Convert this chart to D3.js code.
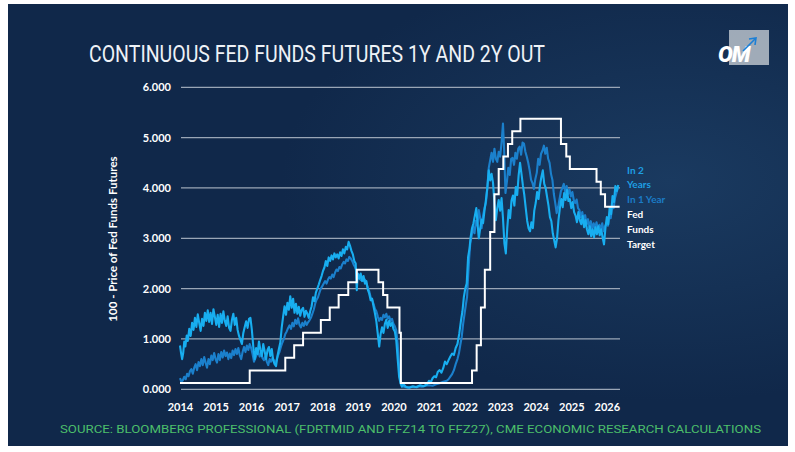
<!DOCTYPE html>
<html>
<head>
<meta charset="utf-8">
<script src="https://cdn.jsdelivr.net/npm/d3@7"></script>
<style>
html, body { margin: 0; padding: 0; background: #fff; }
svg { display: block; }
</style>
</head>
<body>
<svg id="chart" width="795" height="452"></svg>
<script>
'use strict';

var years = [2014, 2015, 2016, 2017, 2018, 2019, 2020, 2021, 2022, 2023, 2024, 2025, 2026];
var yTicks = [0, 1, 2, 3, 4, 5, 6];

// [decimal year, 100 - price]
var inTwoYears = [
    [2014.00, 0.87], [2014.03, 0.72], [2014.06, 0.60], [2014.09, 0.72], [2014.12, 0.95], [2014.15, 0.85],
    [2014.19, 1.07], [2014.22, 0.96], [2014.26, 1.20], [2014.30, 1.06], [2014.34, 1.32], [2014.38, 1.18],
    [2014.42, 1.42], [2014.46, 1.24], [2014.50, 1.49], [2014.54, 1.32], [2014.58, 1.16], [2014.62, 1.40],
    [2014.66, 1.26], [2014.70, 1.52], [2014.74, 1.36], [2014.78, 1.57], [2014.82, 1.34], [2014.86, 1.52],
    [2014.90, 1.30], [2014.94, 1.59], [2014.98, 1.44], [2015.02, 1.28], [2015.06, 1.48], [2015.10, 1.24],
    [2015.14, 1.50], [2015.18, 1.32], [2015.22, 1.55], [2015.26, 1.36], [2015.30, 1.26], [2015.34, 1.45],
    [2015.38, 1.22], [2015.42, 1.16], [2015.46, 1.38], [2015.50, 1.50], [2015.54, 1.28], [2015.58, 1.42],
    [2015.62, 1.18], [2015.66, 1.06], [2015.70, 0.98], [2015.74, 0.90], [2015.78, 1.12], [2015.82, 1.24],
    [2015.86, 1.35], [2015.90, 1.22], [2015.94, 1.40], [2015.98, 1.42], [2016.02, 1.18], [2016.06, 0.85],
    [2016.10, 0.60], [2016.14, 0.82], [2016.18, 0.70], [2016.22, 0.95], [2016.26, 0.78], [2016.30, 0.66],
    [2016.34, 0.90], [2016.38, 0.75], [2016.42, 0.60], [2016.46, 0.78], [2016.50, 0.84], [2016.54, 0.66],
    [2016.58, 0.80], [2016.62, 0.58], [2016.66, 0.50], [2016.70, 0.46], [2016.74, 0.66], [2016.78, 0.80],
    [2016.82, 0.93], [2016.86, 1.23], [2016.90, 1.45], [2016.94, 1.65], [2016.98, 1.48], [2017.02, 1.72],
    [2017.06, 1.58], [2017.10, 1.85], [2017.14, 1.62], [2017.18, 1.80], [2017.22, 1.52], [2017.26, 1.70],
    [2017.30, 1.50], [2017.34, 1.64], [2017.38, 1.46], [2017.42, 1.58], [2017.46, 1.62], [2017.50, 1.44],
    [2017.54, 1.56], [2017.58, 1.50], [2017.62, 1.42], [2017.66, 1.55], [2017.70, 1.65], [2017.74, 1.83],
    [2017.78, 1.75], [2017.82, 1.92], [2017.86, 2.00], [2017.90, 2.08], [2017.94, 2.17], [2017.98, 2.25],
    [2018.02, 2.35], [2018.06, 2.42], [2018.10, 2.55], [2018.14, 2.45], [2018.18, 2.62], [2018.22, 2.55],
    [2018.26, 2.66], [2018.30, 2.58], [2018.34, 2.70], [2018.38, 2.62], [2018.42, 2.68], [2018.46, 2.60],
    [2018.50, 2.72], [2018.54, 2.65], [2018.58, 2.78], [2018.62, 2.70], [2018.66, 2.83], [2018.70, 2.78],
    [2018.74, 2.93], [2018.78, 2.85], [2018.82, 2.75], [2018.86, 2.68], [2018.90, 2.55], [2018.94, 2.50],
    [2018.97, 1.97], [2019.00, 2.30], [2019.04, 2.20], [2019.08, 2.30], [2019.12, 2.15], [2019.16, 2.25],
    [2019.20, 2.10], [2019.24, 2.15], [2019.28, 1.98], [2019.32, 1.90], [2019.36, 1.77], [2019.40, 1.80],
    [2019.44, 1.65], [2019.48, 1.51], [2019.52, 1.35], [2019.56, 1.10], [2019.60, 0.85], [2019.64, 1.10],
    [2019.68, 1.23], [2019.72, 1.12], [2019.76, 1.30], [2019.80, 1.38], [2019.84, 1.22], [2019.88, 1.36],
    [2019.92, 1.26], [2019.96, 1.32], [2020.00, 1.20], [2020.04, 1.15], [2020.08, 0.97], [2020.12, 0.60],
    [2020.16, 0.25], [2020.20, 0.12], [2020.24, 0.05], [2020.28, 0.10], [2020.35, 0.05], [2020.45, 0.03],
    [2020.55, 0.06], [2020.65, 0.04], [2020.75, 0.08], [2020.85, 0.06], [2020.95, 0.10], [2021.00, 0.17],
    [2021.05, 0.14], [2021.10, 0.22], [2021.15, 0.26], [2021.20, 0.24], [2021.25, 0.35], [2021.30, 0.38],
    [2021.35, 0.33], [2021.40, 0.42], [2021.45, 0.55], [2021.50, 0.50], [2021.55, 0.58], [2021.60, 0.65],
    [2021.65, 0.71], [2021.70, 0.68], [2021.75, 0.82], [2021.80, 0.90], [2021.85, 1.10], [2021.90, 1.37],
    [2021.94, 1.55], [2021.98, 1.83], [2022.02, 2.00], [2022.06, 2.10], [2022.10, 2.63], [2022.14, 2.80],
    [2022.17, 3.02], [2022.21, 3.20], [2022.25, 3.30], [2022.29, 3.45], [2022.33, 3.60], [2022.37, 3.25],
    [2022.40, 3.00], [2022.44, 3.20], [2022.48, 3.37], [2022.52, 3.30], [2022.56, 3.55], [2022.60, 3.76],
    [2022.64, 4.00], [2022.68, 4.35], [2022.72, 4.15], [2022.76, 4.28], [2022.80, 4.10], [2022.84, 3.70],
    [2022.88, 3.36], [2022.92, 3.60], [2022.96, 3.76], [2023.00, 3.55], [2023.04, 3.80], [2023.08, 3.40],
    [2023.12, 2.90], [2023.16, 2.70], [2023.20, 3.20], [2023.24, 3.56], [2023.28, 3.40], [2023.32, 3.75],
    [2023.36, 3.85], [2023.40, 3.65], [2023.44, 4.02], [2023.48, 3.86], [2023.52, 4.25], [2023.56, 4.50],
    [2023.60, 4.28], [2023.64, 4.05], [2023.68, 3.86], [2023.72, 3.60], [2023.76, 3.35], [2023.80, 3.20],
    [2023.84, 3.14], [2023.88, 3.32], [2023.92, 3.20], [2023.96, 3.55], [2024.00, 3.70], [2024.04, 3.92],
    [2024.08, 3.78], [2024.12, 4.05], [2024.16, 4.22], [2024.20, 4.35], [2024.24, 4.08], [2024.28, 4.00],
    [2024.32, 3.82], [2024.36, 3.65], [2024.40, 3.42], [2024.44, 3.34], [2024.48, 3.10], [2024.52, 2.96],
    [2024.56, 2.82], [2024.60, 3.00], [2024.64, 3.36], [2024.68, 3.60], [2024.72, 3.78], [2024.76, 3.62],
    [2024.80, 3.90], [2024.84, 3.76], [2024.88, 3.96], [2024.92, 3.74], [2024.96, 3.78], [2025.00, 3.60],
    [2025.04, 3.72], [2025.08, 3.52], [2025.12, 3.45], [2025.16, 3.32], [2025.20, 3.52], [2025.24, 3.36],
    [2025.28, 3.28], [2025.32, 3.44], [2025.36, 3.22], [2025.40, 3.36], [2025.44, 3.18], [2025.48, 3.08],
    [2025.52, 3.24], [2025.56, 3.04], [2025.60, 3.18], [2025.64, 3.02], [2025.68, 3.22], [2025.72, 3.08],
    [2025.76, 3.24], [2025.80, 3.06], [2025.84, 3.18], [2025.88, 3.02], [2025.92, 2.88], [2025.96, 3.20],
    [2026.00, 3.42], [2026.04, 3.28], [2026.08, 3.62], [2026.12, 3.48], [2026.16, 3.84], [2026.20, 3.72],
    [2026.24, 4.04], [2026.28, 3.94], [2026.32, 4.06]
];

var inOneYear = [
    [2014.00, 0.22], [2014.04, 0.15], [2014.08, 0.18], [2014.12, 0.25], [2014.16, 0.20], [2014.20, 0.31],
    [2014.24, 0.26], [2014.28, 0.36], [2014.32, 0.40], [2014.36, 0.31], [2014.40, 0.43], [2014.44, 0.50],
    [2014.48, 0.38], [2014.52, 0.54], [2014.56, 0.46], [2014.60, 0.60], [2014.64, 0.48], [2014.68, 0.64],
    [2014.72, 0.53], [2014.76, 0.43], [2014.80, 0.60], [2014.84, 0.50], [2014.88, 0.67], [2014.92, 0.58],
    [2014.96, 0.72], [2015.00, 0.60], [2015.04, 0.53], [2015.08, 0.70], [2015.12, 0.58], [2015.16, 0.74],
    [2015.20, 0.63], [2015.24, 0.77], [2015.28, 0.66], [2015.32, 0.73], [2015.36, 0.60], [2015.40, 0.71],
    [2015.44, 0.62], [2015.48, 0.77], [2015.52, 0.68], [2015.56, 0.80], [2015.60, 0.70], [2015.64, 0.82],
    [2015.68, 0.68], [2015.72, 0.60], [2015.76, 0.74], [2015.80, 0.84], [2015.84, 0.74], [2015.88, 0.87],
    [2015.92, 0.78], [2015.96, 0.90], [2016.00, 0.82], [2016.04, 0.70], [2016.08, 0.55], [2016.12, 0.62],
    [2016.16, 0.70], [2016.20, 0.75], [2016.24, 0.65], [2016.28, 0.72], [2016.32, 0.62], [2016.36, 0.58],
    [2016.40, 0.66], [2016.44, 0.55], [2016.48, 0.48], [2016.52, 0.60], [2016.56, 0.55], [2016.60, 0.62],
    [2016.64, 0.58], [2016.68, 0.50], [2016.72, 0.60], [2016.76, 0.68], [2016.80, 0.75], [2016.84, 0.85],
    [2016.88, 0.93], [2016.92, 1.00], [2016.96, 1.10], [2017.00, 1.15], [2017.04, 1.22], [2017.08, 1.27],
    [2017.12, 1.20], [2017.16, 1.32], [2017.20, 1.25], [2017.24, 1.38], [2017.28, 1.30], [2017.32, 1.41],
    [2017.36, 1.28], [2017.40, 1.23], [2017.44, 1.32], [2017.48, 1.26], [2017.52, 1.35], [2017.56, 1.28],
    [2017.60, 1.33], [2017.64, 1.37], [2017.68, 1.42], [2017.72, 1.50], [2017.76, 1.58], [2017.80, 1.70],
    [2017.84, 1.78], [2017.88, 1.83], [2017.92, 1.92], [2017.96, 2.00], [2018.00, 2.05], [2018.04, 2.10],
    [2018.08, 2.15], [2018.12, 2.10], [2018.16, 2.18], [2018.20, 2.23], [2018.24, 2.20], [2018.28, 2.28],
    [2018.32, 2.23], [2018.36, 2.32], [2018.40, 2.38], [2018.44, 2.35], [2018.48, 2.43], [2018.52, 2.40],
    [2018.56, 2.48], [2018.60, 2.53], [2018.64, 2.50], [2018.68, 2.58], [2018.72, 2.55], [2018.76, 2.63],
    [2018.80, 2.60], [2018.84, 2.55], [2018.88, 2.48], [2018.92, 2.43], [2018.96, 2.35], [2019.00, 2.25],
    [2019.04, 2.20], [2019.08, 2.17], [2019.12, 2.22], [2019.16, 2.15], [2019.20, 2.18], [2019.24, 2.10],
    [2019.28, 2.02], [2019.32, 1.95], [2019.36, 1.83], [2019.40, 1.78], [2019.44, 1.70], [2019.48, 1.60],
    [2019.52, 1.55], [2019.56, 1.45], [2019.60, 1.36], [2019.64, 1.42], [2019.68, 1.38], [2019.72, 1.48],
    [2019.76, 1.43], [2019.80, 1.50], [2019.84, 1.40], [2019.88, 1.45], [2019.92, 1.36], [2019.96, 1.40],
    [2020.00, 1.30], [2020.04, 1.25], [2020.08, 1.17], [2020.12, 0.90], [2020.16, 0.45], [2020.20, 0.15],
    [2020.24, 0.08], [2020.30, 0.05], [2020.40, 0.03], [2020.50, 0.05], [2020.60, 0.04], [2020.70, 0.06],
    [2020.80, 0.05], [2020.90, 0.07], [2021.00, 0.08], [2021.10, 0.07], [2021.20, 0.10], [2021.30, 0.12],
    [2021.40, 0.15], [2021.50, 0.17], [2021.55, 0.20], [2021.60, 0.25], [2021.65, 0.30], [2021.70, 0.38],
    [2021.75, 0.50], [2021.80, 0.60], [2021.84, 0.71], [2021.88, 0.88], [2021.92, 1.04], [2021.96, 1.30],
    [2022.00, 1.50], [2022.04, 1.70], [2022.07, 1.83], [2022.10, 2.23], [2022.13, 2.60], [2022.16, 2.90],
    [2022.20, 3.05], [2022.24, 3.23], [2022.28, 3.10], [2022.32, 3.35], [2022.36, 3.25], [2022.40, 3.56],
    [2022.44, 3.40], [2022.48, 3.20], [2022.52, 3.45], [2022.56, 3.60], [2022.60, 3.70], [2022.64, 4.00],
    [2022.68, 4.40], [2022.72, 4.55], [2022.76, 4.70], [2022.80, 4.52], [2022.84, 4.78], [2022.88, 4.58],
    [2022.92, 4.52], [2022.96, 4.72], [2023.00, 4.62], [2023.04, 4.90], [2023.08, 5.28], [2023.11, 4.80],
    [2023.15, 3.90], [2023.19, 4.12], [2023.23, 4.40], [2023.27, 4.26], [2023.31, 4.58], [2023.35, 4.60],
    [2023.39, 4.46], [2023.43, 4.70], [2023.47, 4.58], [2023.51, 4.78], [2023.55, 4.82], [2023.59, 4.66],
    [2023.63, 4.90], [2023.67, 4.88], [2023.71, 4.72], [2023.75, 4.62], [2023.79, 4.50], [2023.83, 4.35],
    [2023.87, 4.16], [2023.91, 4.10], [2023.95, 3.98], [2023.99, 4.18], [2024.03, 4.30], [2024.07, 4.58],
    [2024.11, 4.46], [2024.15, 4.68], [2024.19, 4.74], [2024.23, 4.84], [2024.27, 4.68], [2024.31, 4.80],
    [2024.35, 4.58], [2024.39, 4.50], [2024.43, 4.28], [2024.47, 4.16], [2024.51, 3.88], [2024.55, 3.70],
    [2024.59, 3.50], [2024.63, 3.62], [2024.67, 3.78], [2024.71, 3.94], [2024.75, 4.00], [2024.79, 4.08],
    [2024.83, 3.92], [2024.87, 4.04], [2024.91, 3.88], [2024.95, 3.97], [2024.99, 3.83], [2025.03, 3.92],
    [2025.07, 3.76], [2025.11, 3.70], [2025.15, 3.77], [2025.19, 3.60], [2025.23, 3.56], [2025.27, 3.42],
    [2025.31, 3.52], [2025.35, 3.36], [2025.39, 3.46], [2025.43, 3.28], [2025.47, 3.38], [2025.51, 3.22],
    [2025.55, 3.34], [2025.59, 3.18], [2025.63, 3.30], [2025.67, 3.20], [2025.71, 3.32], [2025.75, 3.16],
    [2025.79, 3.27], [2025.83, 3.18], [2025.87, 3.30], [2025.91, 3.14], [2025.95, 3.24], [2025.99, 3.30],
    [2026.03, 3.25], [2026.07, 3.45], [2026.11, 3.40], [2026.15, 3.65], [2026.19, 3.60], [2026.23, 3.80],
    [2026.27, 3.90], [2026.31, 4.00]
];

// fed funds target midpoint, each level holds from its date until the next
var fedDates = [
    2014.00, 2015.96, 2016.96, 2017.21, 2017.46, 2017.96, 2018.21, 2018.46, 2018.73, 2018.97,
    2019.58, 2019.71, 2019.83, 2020.17, 2020.21, 2022.21, 2022.34, 2022.46, 2022.57, 2022.72,
    2022.84, 2022.96, 2023.09, 2023.22, 2023.34, 2023.57, 2024.71, 2024.86, 2024.96, 2025.71,
    2025.83, 2025.95, 2026.36
];
var fedLevels = [
    0.125, 0.375, 0.625, 0.875, 1.125, 1.375, 1.625, 1.875, 2.125, 2.375,
    2.125, 1.875, 1.625, 1.125, 0.125, 0.375, 0.875, 1.625, 2.375, 3.125,
    3.875, 4.375, 4.625, 4.875, 5.125, 5.375, 4.875, 4.625, 4.375, 4.125,
    3.875, 3.625, 3.625
];

var legendItems = [
    { lines: ['In 2', 'Years'], color: '#1e9fe3' },
    { lines: ['In 1 Year'], color: '#1b7cc6' },
    { lines: ['Fed', 'Funds', 'Target'], color: '#ffffff' }
];

var titleText = 'CONTINUOUS FED FUNDS FUTURES 1Y AND 2Y OUT';
var sourceText = 'SOURCE: BLOOMBERG PROFESSIONAL (FDRTMID AND FFZ14 TO FFZ27), CME ECONOMIC RESEARCH CALCULATIONS';
var yTitle = '100 - Price of Fed Funds Futures';

var svg = d3.select('#chart');
var defs = svg.append('defs');

var glow = defs.append('radialGradient')
    .attr('id', 'glow')
    .attr('cx', '0.85').attr('cy', '0.4').attr('r', '0.5') ;
glow.append('stop').attr('offset', '0').attr('stop-color', '#1a3a60') ;
glow.append('stop').attr('offset', '1').attr('stop-color', '#10284a') ;

svg.append('rect')
    .attr('x', 8).attr('y', 4)
    .attr('width', 780).attr('height', 442)
    .attr('fill', 'url(#glow)') ;

var x = d3.scaleLinear().domain([2014, 2026.37]).range([180, 620]);
var y = d3.scaleLinear().domain([0, 6]).range([389.3, 87.3]);

// gridlines
svg.append('g')
    .selectAll('line')
    .data(yTicks)
    .join('line')
    .attr('x1', x(2014) + 1)
    .attr('x2', x.range()[1])
    .attr('y1', function (d) { return y(d); })
    .attr('y2', function (d) { return y(d); })
    .attr('stroke', '#9aa6b6')
    .attr('stroke-width', 1.2) ;

var yAxis = svg.append('g')
    .attr('transform', 'translate(' + (x(2014) + 1) + ',0)')
    .call(d3.axisLeft(y).tickValues(yTicks).tickFormat(d3.format('.3f')).tickSize(0).tickPadding(10)) ;
yAxis.select('.domain').remove();
yAxis.selectAll('text')
    .attr('fill', '#ffffff')
    .style('font-family', 'Lato, sans-serif')
    .style('font-weight', 700)
    .style('font-size', '11px') ;

var xAxis = svg.append('g')
    .attr('transform', 'translate(0,' + y(0) + ')')
    .call(d3.axisBottom(x).tickValues(years).tickFormat(d3.format('d')).tickSize(0).tickPadding(14)) ;
xAxis.select('.domain').remove();
xAxis.selectAll('text')
    .attr('fill', '#ffffff')
    .style('font-family', 'Lato, sans-serif')
    .style('font-weight', 700)
    .style('font-size', '11px') ;

svg.append('text')
    .attr('transform', 'translate(117,239) rotate(-90)')
    .attr('text-anchor', 'middle')
    .attr('fill', '#ffffff')
    .style('font-family', 'Lato, sans-serif')
    .style('font-weight', 700)
    .style('font-size', '11.5px')
    .text(yTitle) ;

var line = d3.line()
    .x(function (d) { return x(d[0]); })
    .y(function (d) { return y(d[1]); }) ;

svg.append('path')
    .datum(inOneYear)
    .attr('d', line)
    .attr('fill', 'none')
    .attr('stroke', '#1b80cc')
    .attr('stroke-width', 2.1)
    .attr('stroke-linejoin', 'round') ;

svg.append('path')
    .datum(inTwoYears)
    .attr('d', line)
    .attr('fill', 'none')
    .attr('stroke', '#18aef0')
    .attr('stroke-width', 2.1)
    .attr('stroke-linejoin', 'round') ;

var fedData = fedDates.map(function (d, i) { return [d, fedLevels[i]]; });
svg.append('path')
    .datum(fedData)
    .attr('d', d3.line().curve(d3.curveStepAfter)
        .x(function (d) { return x(d[0]); })
        .y(function (d) { return y(d[1]); }))
    .attr('fill', 'none')
    .attr('stroke', '#ffffff')
    .attr('stroke-width', 2) ;

// legend, stacked lines at the right of the plot
var legendY = 170;
var legend = svg.append('g')
    .style('font-family', 'Lato, sans-serif')
    .style('font-weight', 700)
    .style('font-size', '10px') ;
legendItems.forEach(function (item) {
    item.lines.forEach(function (t) {
        legend.append('text')
            .attr('x', 627)
            .attr('y', legendY)
            .attr('dy', '0.35em')
            .attr('fill', item.color)
            .text(t) ;
        legendY += 14.8;
    });
});

svg.append('text')
    .attr('x', 89)
    .attr('y', 62)
    .attr('textLength', 456)
    .attr('lengthAdjust', 'spacingAndGlyphs')
    .attr('fill', '#eef2f7')
    .style('font-family', 'Roboto, sans-serif')
    .style('font-weight', 400)
    .style('font-size', '23.5px')
    .text(titleText) ;

svg.append('text')
    .attr('x', 60)
    .attr('y', 433)
    .attr('textLength', 701)
    .attr('lengthAdjust', 'spacingAndGlyphs')
    .attr('fill', '#4cbf6a')
    .style('font-family', 'Roboto, sans-serif')
    .style('font-size', '11px')
    .text(sourceText) ;

// logo
var logo = svg.append('g');
logo.append('rect')
    .attr('x', 729).attr('y', 30)
    .attr('width', 40).attr('height', 35)
    .attr('fill', '#b9c1ca')
    .attr('opacity', 0.85) ;
logo.append('text')
    .attr('x', 718)
    .attr('y', 62)
    .attr('fill', '#ffffff')
    .style('font-family', 'Roboto, sans-serif')
    .style('font-weight', 900)
    .style('font-style', 'italic')
    .style('font-size', '22px')
    .style('letter-spacing', '-1px')
    .text('OM') ;
logo.append('line')
    .attr('x1', 743).attr('y1', 51)
    .attr('x2', 755).attr('y2', 39)
    .attr('stroke', '#1b7fd6')
    .attr('stroke-width', 1.6) ;
logo.append('path')
    .attr('d', 'M749,39 L756,38 L755,45')
    .attr('fill', 'none')
    .attr('stroke', '#1b7fd6')
    .attr('stroke-width', 1.6) ;
</script>
</body>
</html>
